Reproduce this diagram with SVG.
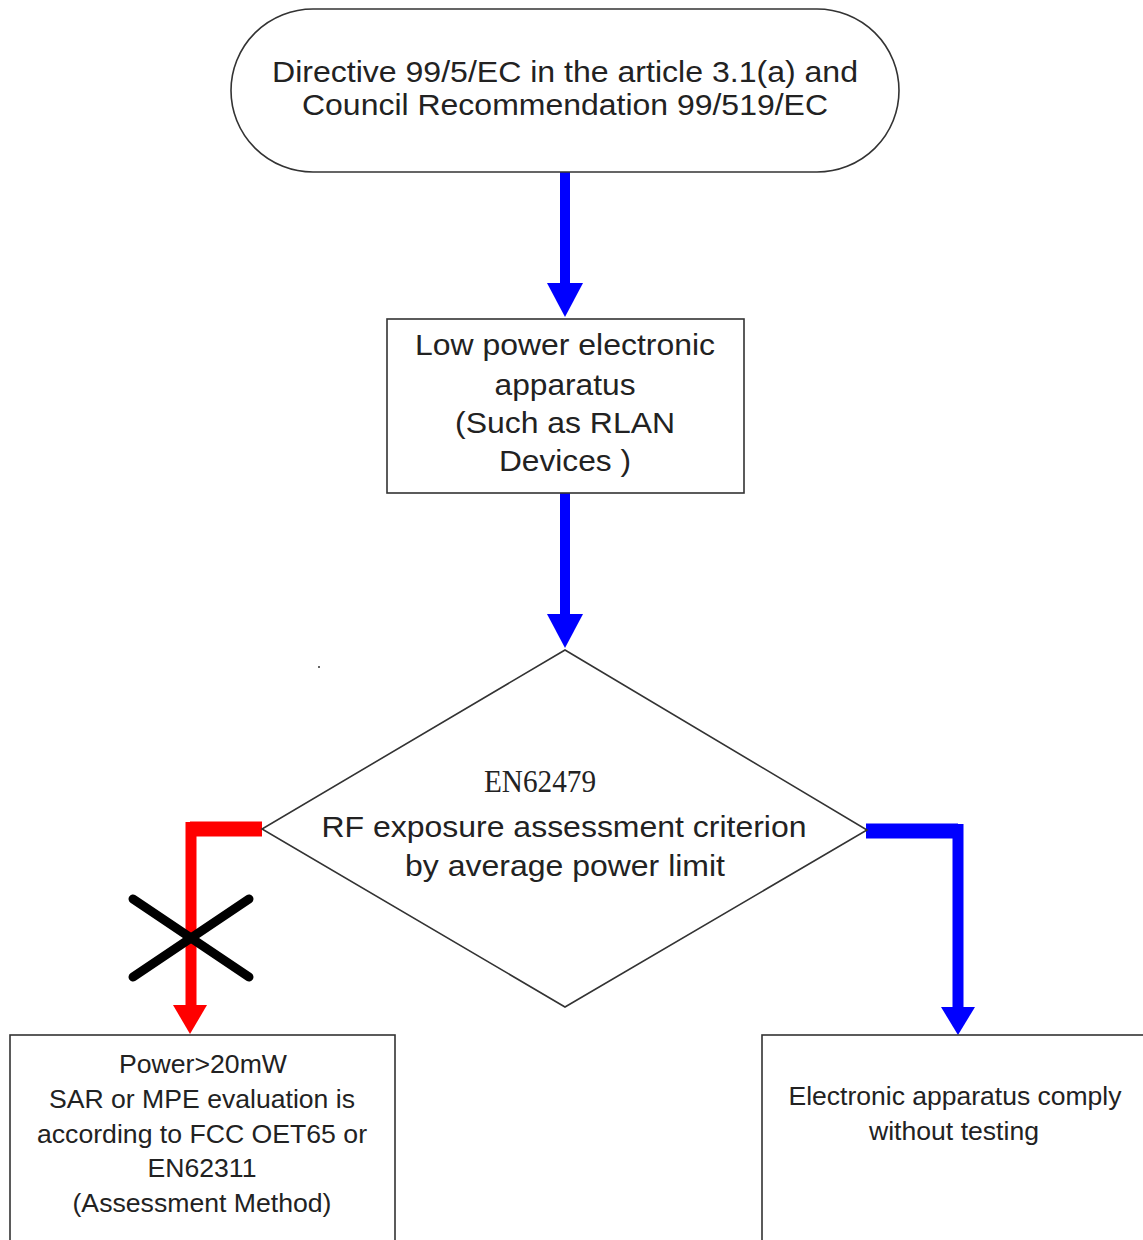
<svg xmlns="http://www.w3.org/2000/svg" width="1143" height="1240" viewBox="0 0 1143 1240">
<style>
.shape{fill:#fff;stroke:#333;stroke-width:1.6}
.t{font-family:"Liberation Sans",Arial,sans-serif;fill:#222;text-anchor:middle}
.blue{fill:none;stroke:#0000ff;stroke-linejoin:miter}
.red{fill:none;stroke:#ff0000}
</style>
<rect width="1143" height="1240" fill="#fff"/>
<g id="connectors">
<line class="blue" x1="565" y1="172" x2="565" y2="285" stroke-width="10"/>
<path d="M547,283 L583,283 L565,317 Z" fill="#0000ff"/>
<line class="blue" x1="565" y1="493" x2="565" y2="616" stroke-width="10"/>
<path d="M547,614 L583,614 L565,648 Z" fill="#0000ff"/>
<path class="red" d="M262,829 L190,829" stroke-width="15"/>
<path class="red" d="M191,822 L191,1008" stroke-width="11"/>
<path d="M173,1005 L207,1005 L190,1034 Z" fill="#ff0000"/>
<path class="blue" d="M866,831 L958,831" stroke-width="15"/>
<path class="blue" d="M958,824 L958,1009" stroke-width="11"/>
<path d="M941,1007 L975,1007 L958,1035 Z" fill="#0000ff"/>
</g>
<g id="n1">
<rect class="shape" x="231" y="9" width="668" height="163" rx="82" ry="82"/>
<text class="t" x="565" y="82" font-size="30" textLength="586" lengthAdjust="spacingAndGlyphs">Directive 99/5/EC in the article 3.1(a) and</text>
<text class="t" x="565" y="115" font-size="30" textLength="526" lengthAdjust="spacingAndGlyphs">Council Recommendation 99/519/EC</text>
</g>
<g id="n2">
<rect class="shape" x="387" y="319" width="357" height="174"/>
<text class="t" x="565" y="355" font-size="30" textLength="300" lengthAdjust="spacingAndGlyphs">Low power electronic</text>
<text class="t" x="565" y="395" font-size="30" textLength="141" lengthAdjust="spacingAndGlyphs">apparatus</text>
<text class="t" x="565" y="433" font-size="30" textLength="220" lengthAdjust="spacingAndGlyphs">(Such as RLAN</text>
<text class="t" x="565" y="471" font-size="30" textLength="132" lengthAdjust="spacingAndGlyphs">Devices )</text>
</g>
<g id="n3">
<path class="shape" d="M565,650 L867,830 L565,1007 L262,829 Z"/>
<text x="540" y="792" font-family="'Liberation Serif','DejaVu Serif',serif" font-size="32" fill="#222" text-anchor="middle" textLength="112" lengthAdjust="spacingAndGlyphs">EN62479</text>
<text class="t" x="564" y="837" font-size="29" textLength="485" lengthAdjust="spacingAndGlyphs">RF exposure assessment criterion</text>
<text class="t" x="565" y="876" font-size="29" textLength="320" lengthAdjust="spacingAndGlyphs">by average power limit</text>
</g>
<g id="cross">
<line x1="133" y1="899" x2="249" y2="977" stroke="#000" stroke-width="9" stroke-linecap="round"/>
<line x1="133" y1="977" x2="249" y2="899" stroke="#000" stroke-width="9" stroke-linecap="round"/>
</g>
<circle cx="319" cy="667" r="1" fill="#333"/>
<g id="n4">
<rect class="shape" x="10" y="1035" width="385" height="220" stroke="#000"/>
<text class="t" x="203" y="1073" font-size="26" textLength="168" lengthAdjust="spacingAndGlyphs">Power&gt;20mW</text>
<text class="t" x="202" y="1108" font-size="26" textLength="306" lengthAdjust="spacingAndGlyphs">SAR or MPE evaluation is</text>
<text class="t" x="202" y="1143" font-size="26" textLength="330" lengthAdjust="spacingAndGlyphs">according to FCC OET65 or</text>
<text class="t" x="202" y="1177" font-size="26" textLength="109" lengthAdjust="spacingAndGlyphs">EN62311</text>
<text class="t" x="202" y="1212" font-size="26" textLength="259" lengthAdjust="spacingAndGlyphs">(Assessment Method)</text>
</g>
<g id="n5">
<rect class="shape" x="762" y="1035" width="400" height="220"/>
<text class="t" x="955" y="1105" font-size="26" textLength="333" lengthAdjust="spacingAndGlyphs">Electronic apparatus comply</text>
<text class="t" x="954" y="1140" font-size="26" textLength="170" lengthAdjust="spacingAndGlyphs">without testing</text>
</g>
</svg>
